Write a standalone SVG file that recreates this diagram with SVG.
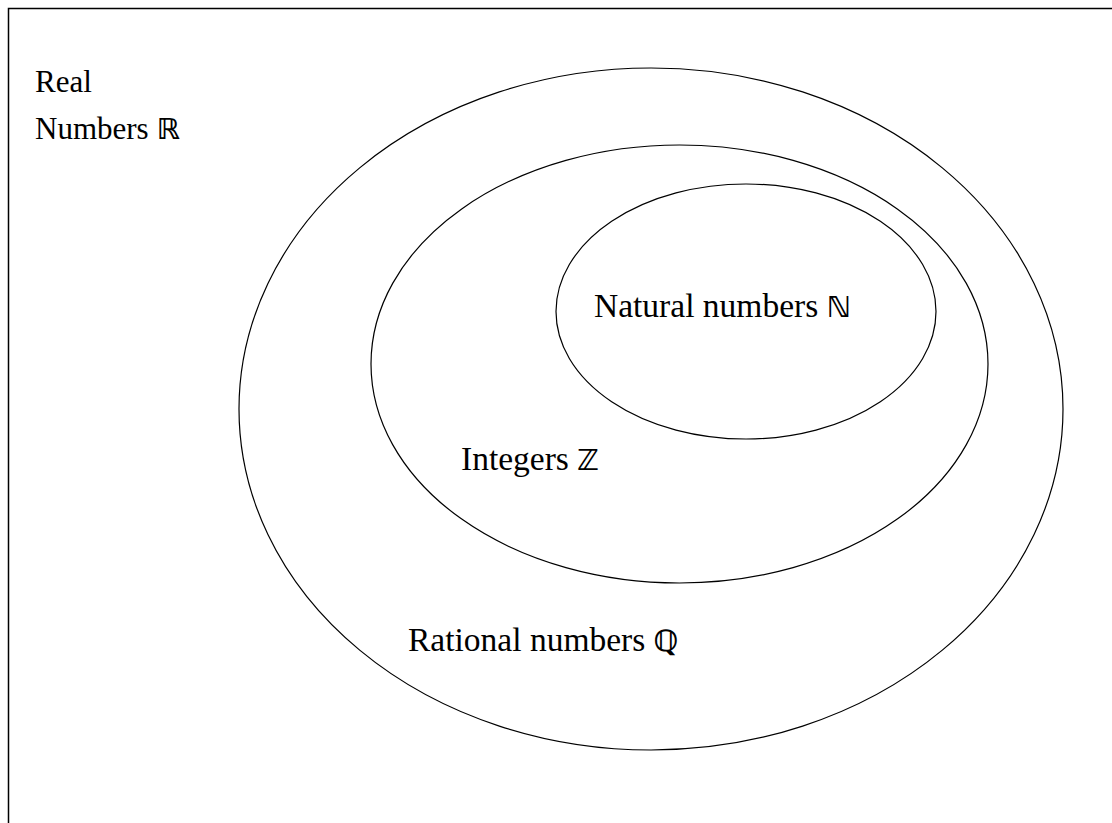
<svg xmlns="http://www.w3.org/2000/svg" width="1112" height="823" viewBox="0 0 1112 823">
<style>
.set{fill:none;stroke:#000;stroke-width:1.2}
.lbl{font-family:"Liberation Serif","DejaVu Sans",serif;font-size:33.5px;fill:#000}
.sm{font-size:31px}
.ds{font-family:"DejaVu Sans",sans-serif;font-size:29px;font-weight:bold}
</style>
<rect x="0" y="0" width="1112" height="823" fill="#fff"/>
<rect x="8.5" y="8.5" width="1200" height="900" fill="none" stroke="#000" stroke-width="1.5"/>
<g id="real"><text class="lbl sm" x="35" y="92">Real</text><text class="lbl sm" x="35" y="139">Numbers <tspan class="ds">ℝ</tspan></text></g>
<g id="rational"><ellipse class="set" cx="651" cy="409" rx="412" ry="341"/><text class="lbl" x="408" y="651">Rational numbers <tspan class="ds">ℚ</tspan></text></g>
<g id="integers"><ellipse class="set" cx="679.5" cy="364" rx="308.5" ry="219"/><text class="lbl" x="461" y="470">Integers <tspan class="ds">ℤ</tspan></text></g>
<g id="natural"><ellipse class="set" cx="746" cy="311.5" rx="190" ry="127.5"/><text class="lbl" x="594" y="317">Natural numbers <tspan class="ds">ℕ</tspan></text></g>
<g id="connectors"></g>
</svg>
